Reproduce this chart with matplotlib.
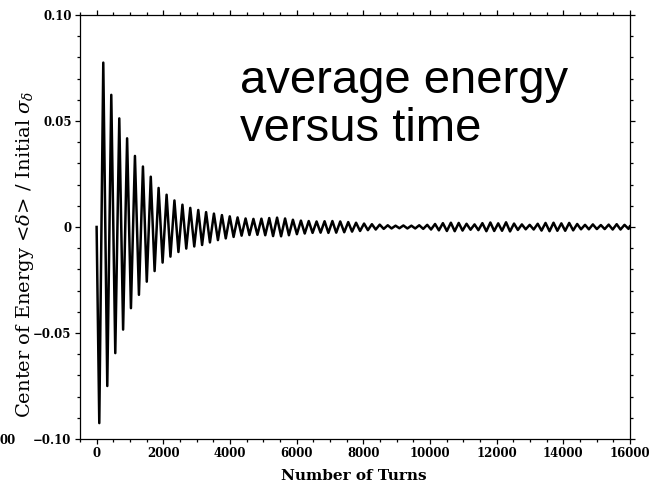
import numpy as np
import matplotlib
matplotlib.use("Agg")
import matplotlib.pyplot as plt
from matplotlib.ticker import MultipleLocator, FixedLocator, FixedFormatter

# ---- data ----
start_turn, start_value = 0, 0.0
end_turn, end_value = 16000, 0.0003

peak_turns = [200, 440, 680, 915, 1150, 1390, 1625, 1860, 2100, 2335,
              2575, 2810, 3050, 3285, 3520, 3760, 3995, 4230, 4470, 4705,
              4945, 5180, 5415, 5655, 5890, 6130, 6365, 6600, 6840, 7075,
              7310, 7550, 7785, 8025, 8260, 8495, 8735, 8970, 9205, 9445,
              9680, 9920, 10155, 10390, 10630, 10865, 11100, 11340, 11575, 11815,
              12050, 12285, 12525, 12760, 12995, 13235, 13470, 13710, 13945, 14180,
              14420, 14655, 14890, 15130, 15365, 15605, 15840]
peak_values = [0.0775, 0.0623, 0.0512, 0.0418, 0.0335, 0.0285, 0.0237, 0.0184, 0.0152, 0.0125,
               0.0105, 0.0090, 0.0080, 0.0070, 0.0063, 0.0056, 0.0050, 0.0045, 0.0040, 0.0038,
               0.0039, 0.0042, 0.0044, 0.0040, 0.0034, 0.0030, 0.0028, 0.0026, 0.0027, 0.0028,
               0.0026, 0.0023, 0.0020, 0.0016, 0.0013, 0.0011, 0.0008, 0.0006, 0.0007, 0.0006,
               0.0008, 0.0010, 0.0014, 0.0018, 0.0020, 0.0019, 0.0015, 0.0012, 0.0018, 0.0021,
               0.0017, 0.0022, 0.0016, 0.0012, 0.0010, 0.0015, 0.0019, 0.0020, 0.0017, 0.0019,
               0.0014, 0.0010, 0.0012, 0.0009, 0.0011, 0.0013, 0.0010]

trough_turns = [80, 320, 560, 795, 1030, 1270, 1505, 1740, 1980, 2215,
                2455, 2690, 2930, 3165, 3400, 3640, 3875, 4110, 4350, 4585,
                4825, 5060, 5295, 5535, 5770, 6010, 6245, 6480, 6720, 6955,
                7190, 7430, 7665, 7905, 8140, 8375, 8615, 8850, 9085, 9325,
                9560, 9800, 10035, 10270, 10510, 10745, 10980, 11220, 11455, 11695,
                11930, 12165, 12405, 12640, 12875, 13115, 13350, 13590, 13825, 14060,
                14300, 14535, 14770, 15010, 15245, 15485, 15720, 15960]
trough_values = [-0.0925, -0.0750, -0.0595, -0.0484, -0.0383, -0.0320, -0.0258, -0.0208, -0.0168, -0.0140,
                 -0.0118, -0.0102, -0.0092, -0.0085, -0.0073, -0.0062, -0.0054, -0.0047, -0.0041, -0.0038,
                 -0.0037, -0.0039, -0.0043, -0.0044, -0.0039, -0.0034, -0.0031, -0.0028, -0.0027, -0.0028,
                 -0.0027, -0.0025, -0.0022, -0.0019, -0.0015, -0.0012, -0.0009, -0.0007, -0.0006, -0.0007,
                 -0.0007, -0.0009, -0.0012, -0.0016, -0.0019, -0.0020, -0.0017, -0.0013, -0.0015, -0.0020,
                 -0.0019, -0.0018, -0.0021, -0.0014, -0.0011, -0.0012, -0.0017, -0.0020, -0.0018, -0.0018,
                 -0.0016, -0.0011, -0.0011, -0.0010, -0.0010, -0.0012, -0.0012, -0.0009]

x_ticks = [0, 2000, 4000, 6000, 8000, 10000, 12000, 14000, 16000]
x_tick_labels = ["0", "2000", "4000", "6000", "8000", "10000", "12000", "14000", "16000"]
y_ticks = [-0.10, -0.05, 0.0, 0.05, 0.10]
y_tick_labels = ["\u22120.10", "\u22120.05", "0", "0.05", "0.10"]

# ---- build the curve from the extrema ----
turns = np.array([start_turn] + peak_turns + trough_turns + [end_turn], dtype=float)
values = np.array([start_value] + peak_values + trough_values + [end_value])
order = np.argsort(turns)
turns, values = turns[order], values[order]

plt.rcParams["mathtext.fontset"] = "dejavuserif"
serif = "DejaVu Serif"

fig = plt.figure(figsize=(6.5, 4.92), dpi=100)
ax = fig.add_axes([0.123, 0.1077, 0.846, 0.862])
ax.plot(turns, values, color="black", lw=1.8, solid_joinstyle="round")

ax.set_xlim(-500, 16000)
ax.set_ylim(-0.10, 0.10)

ax.xaxis.set_major_locator(FixedLocator(x_ticks))
ax.xaxis.set_major_formatter(FixedFormatter(x_tick_labels))
ax.xaxis.set_minor_locator(MultipleLocator(500))
ax.yaxis.set_major_locator(FixedLocator(y_ticks))
ax.yaxis.set_major_formatter(FixedFormatter(y_tick_labels))
ax.yaxis.set_minor_locator(MultipleLocator(0.01))

ax.tick_params(which="both", direction="out", top=True, right=True,
               labeltop=False, labelright=False, width=0.9, colors="black")
ax.tick_params(which="major", length=3.5, pad=2.5, labelsize=8.5)
ax.tick_params(which="minor", length=2.2)
for lab in ax.get_xticklabels() + ax.get_yticklabels():
    lab.set_fontfamily(serif)
    lab.set_fontweight("bold")
for sp in ax.spines.values():
    sp.set_linewidth(0.9)

fig.text(354 / 650, 1 - 476 / 492, "Number of Turns", family=serif,
         fontsize=11, fontweight="bold", ha="center", va="center")
fig.text(25 / 650, 1 - 254 / 492,
         r"Center of Energy <$\delta$> / Initial $\sigma_\delta$",
         family=serif, fontsize=14,
         rotation=90, ha="center", va="center")

fig.text(240 / 650, 1 - 93 / 492, "average energy", family="Liberation Sans",
         fontsize=34, ha="left", va="baseline", color="black")
fig.text(240 / 650, 1 - 141 / 492, "versus time", family="Liberation Sans",
         fontsize=34, ha="left", va="baseline", color="black")

fig.text(0.0, 1 - 440 / 492, "00", family=serif, fontsize=8.5,
         fontweight="bold", ha="left", va="center")

fig.savefig("out.png", dpi=100)
